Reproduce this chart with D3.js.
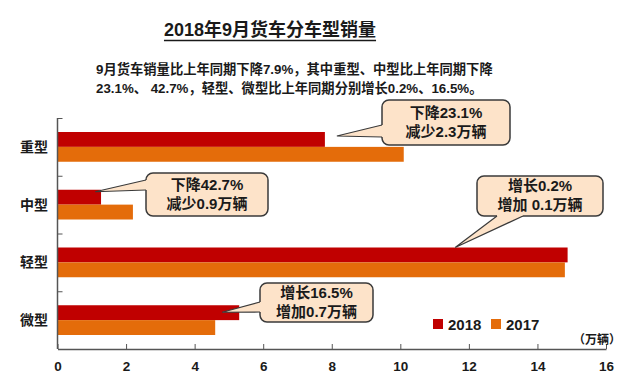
<!DOCTYPE html>
<html>
<head>
<meta charset="utf-8">
<script src="https://cdn.jsdelivr.net/npm/d3@7/dist/d3.min.js"></script>
<style>
  body { margin: 0; background: #fff; }
  svg { display: block; font-family: "Liberation Sans", Arial, "Noto Sans CJK SC", sans-serif; font-weight: bold; }
</style>
</head>
<body>
<div id="chart"></div>
<script>
// chart values
var categories = ['重型', '中型', '轻型', '微型'];
var seriesNames = ['2018', '2017'];
var values2018 = [7.8, 1.27, 14.88, 5.3];
var values2017 = [10.1, 2.2, 14.8, 4.6];
var xTicks = [0, 2, 4, 6, 8, 10, 12, 14, 16];
var titleText = '2018年9月货车分车型销量';
var noteLines = [
    '9月货车销量比上年同期下降7.9%，其中重型、中型比上年同期下降',
    '23.1%、 42.7%，轻型、微型比上年同期分别增长0.2%、16.5%。'
];
var unitText = '（万辆）';

// callouts: which bar they point at, and their two lines
var calloutCats = ['重型', '中型', '轻型', '微型'];
var calloutTipValues = [8.15, 1.1, 11.6, 4.8];
var calloutLines = [
    ['下降23.1%', '减少2.3万辆'],
    ['下降42.7%', '减少0.9万辆'],
    ['增长0.2%', '增加 0.1万辆'],
    ['增长16.5%', '增加0.7万辆']
];

var W = 640, H = 385;
var colors = ['#c00000', '#e46c0a'];
var margin = { left: 57.5, right: 34, top: 118, bottom: 36 };

var svg = d3.select('#chart').append('svg')
    .attr('width', W)
    .attr('height', H);

var x = d3.scaleLinear()
    .domain([0, 16])
    .range([margin.left, W - margin.right]);

var y = d3.scaleBand()
    .domain(categories)
    .range([margin.top, H - margin.bottom])
    .paddingInner(0)
    .paddingOuter(0);

var inner = d3.scaleBand()
    .domain(seriesNames)
    .range([14, y.bandwidth() - 14]);

// title
var title = svg.append('text')
    .attr('x', 270)
    .attr('y', 36)
    .attr('text-anchor', 'middle')
    .style('font-family', '"Liberation Sans Narrow", "Liberation Sans", "Noto Sans CJK SC", sans-serif')
    .style('font-size', '18px')
    .attr('fill', '#1a1a1a')
    .text(titleText);
var tb = title.node().getBBox();
svg.append('line')
    .attr('x1', tb.x).attr('x2', tb.x + tb.width)
    .attr('y1', 40.5).attr('y2', 40.5)
    .attr('stroke', '#1a1a1a')
    .attr('stroke-width', 1.5);

svg.append('g').selectAll('text')
    .data(noteLines)
  .enter().append('text')
    .attr('x', 96)
    .attr('y', function(d, i) { return 74 + i * 19; })
    .style('font-size', '13.3px')
    .attr('fill', '#1a1a1a')
    .text(String);

// bars
var rows = categories.map(function(c, i) {
    return { cat: c, vals: [values2018[i], values2017[i]] };
});
var rowG = svg.append('g').selectAll('g')
    .data(rows)
  .enter().append('g')
    .attr('transform', function(d) { return 'translate(0,' + y(d.cat) + ')'; });
rowG.selectAll('rect')
    .data(function(d) { return d.vals.map(function(v, j) { return { s: seriesNames[j], v: v, j: j }; }); })
  .enter().append('rect')
    .attr('x', x(0))
    .attr('y', function(d) { return inner(d.s); })
    .attr('width', function(d) { return x(d.v) - x(0); })
    .attr('height', inner.bandwidth())
    .attr('fill', function(d) { return colors[d.j]; });

// axes
var axisColor = '#555';
var xAxis = svg.append('g')
    .attr('transform', 'translate(0,' + (H - margin.bottom) + ')')
    .call(d3.axisBottom(x).tickValues(xTicks).tickSize(-5).tickPadding(12).tickSizeOuter(0));
xAxis.select('.domain').attr('stroke', axisColor).attr('stroke-width', 1.5);
xAxis.selectAll('.tick line').attr('stroke', axisColor);
xAxis.selectAll('.tick text')
    .attr('fill', '#1a1a1a')
    .style('font-size', '13.5px')
    .style('font-weight', 'bold')
    .attr('dy', '0.71em');

var yLine = svg.append('g');
yLine.append('line')
    .attr('x1', x(0)).attr('x2', x(0))
    .attr('y1', margin.top).attr('y2', H - margin.bottom)
    .attr('stroke', axisColor).attr('stroke-width', 1.5);
yLine.selectAll('.yt')
    .data(categories)
  .enter().append('line')
    .attr('class', 'yt')
    .attr('x1', x(0)).attr('x2', x(0) + 5)
    .attr('y1', function(d) { return y(d) + 0.5; })
    .attr('y2', function(d) { return y(d) + 0.5; })
    .attr('stroke', axisColor);

svg.append('g').selectAll('text')
    .data(categories)
  .enter().append('text')
    .attr('x', 48)
    .attr('y', function(d) { return y(d) + y.bandwidth() / 2 + 5; })
    .attr('text-anchor', 'end')
    .style('font-size', '14px')
    .attr('fill', '#1a1a1a')
    .text(String);

svg.append('text')
    .attr('x', 621)
    .attr('y', 344)
    .attr('text-anchor', 'end')
    .style('font-size', '12px')
    .attr('fill', '#1a1a1a')
    .text(unitText);

// legend
var leg = svg.append('g').selectAll('g')
    .data(seriesNames)
  .enter().append('g')
    .attr('transform', function(d, i) { return 'translate(' + (433 + i * 58) + ',319)'; });
leg.append('rect')
    .attr('width', 10).attr('height', 10)
    .attr('fill', function(d, i) { return colors[i]; });
leg.append('text')
    .attr('x', 15).attr('y', 11)
    .style('font-size', '15px')
    .attr('fill', '#1a1a1a')
    .text(String);

// callout boxes (layout), side = edge the pointer leaves from
var boxes = [
    { x: 382, y: 100, w: 128, h: 45, side: 'left', b1: 125, b2: 137, tipDy: 4 },
    { x: 146, y: 173, w: 122, h: 43, side: 'left', b1: 180, b2: 190, tipDy: 2 },
    { x: 477, y: 176, w: 126, h: 40, side: 'bottom', b1: 497, b2: 523, tipDy: 0 },
    { x: 260, y: 283, w: 113, h: 39, side: 'left', b1: 302, b2: 312, tipDy: 7 }
];

var cg = svg.append('g');
calloutCats.forEach(function(c, i) {
    var b = boxes[i];
    var tx = x(calloutTipValues[i]);
    var ty = y(c) + inner('2018') + b.tipDy;
    var g = cg.append('g');
    g.append('rect')
        .attr('x', b.x).attr('y', b.y)
        .attr('width', b.w).attr('height', b.h)
        .attr('rx', 7).attr('ry', 7)
        .attr('fill', '#fde3c9')
        .attr('stroke', '#3a3a3a')
        .attr('stroke-width', 1.5);
    var p1, p2, q1, q2;
    if (b.side === 'left') {
        p1 = [b.x, b.b1]; p2 = [b.x, b.b2];
        q1 = [b.x + 3, b.b1]; q2 = [b.x + 3, b.b2];
    } else {
        p1 = [b.b1, b.y + b.h]; p2 = [b.b2, b.y + b.h];
        q1 = [b.b1, b.y + b.h - 3]; q2 = [b.b2, b.y + b.h - 3];
    }
    g.append('path')
        .attr('d', 'M' + q1 + 'L' + p1 + 'L' + [tx, ty] + 'L' + p2 + 'L' + q2 + 'Z')
        .attr('fill', '#fde3c9');
    g.append('path')
        .attr('d', 'M' + p1 + 'L' + [tx, ty] + 'L' + p2)
        .attr('fill', 'none')
        .attr('stroke', '#3a3a3a')
        .attr('stroke-width', 1.2);
    var cy = b.y + b.h / 2;
    g.selectAll('text')
        .data(calloutLines[i])
      .enter().append('text')
        .attr('x', b.x + b.w / 2)
        .attr('y', function(d, k) { return cy - 5 + k * 19; })
        .attr('text-anchor', 'middle')
        .style('font-size', '15px')
        .attr('fill', '#1a1a1a')
        .text(String);
});
</script>
</body>
</html>
